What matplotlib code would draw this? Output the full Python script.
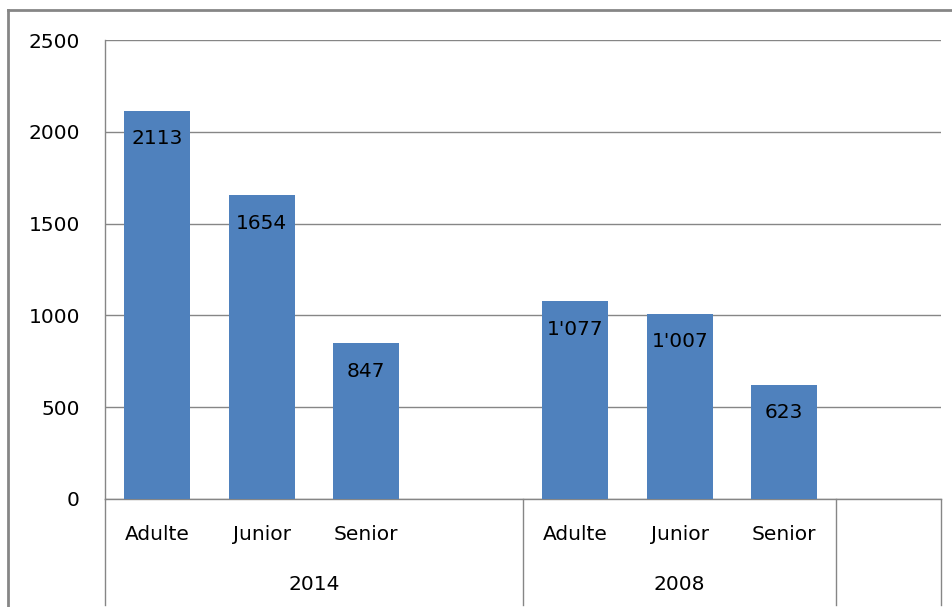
import numpy as np
import matplotlib
matplotlib.use("Agg")
import matplotlib.pyplot as plt
import matplotlib.transforms as mtransforms
from matplotlib.lines import Line2D

categories = ["Adulte", "Junior", "Senior", "", "Adulte", "Junior", "Senior", ""]
values = [2113, 1654, 847, np.nan, 1077, 1007, 623, np.nan]
value_labels = ["2113", "1654", "847", "", "1'077", "1'007", "623", ""]
groups = ["2014", "2008", ""]
group_sizes = [4, 3, 1]
yticks = [0, 500, 1000, 1500, 2000, 2500]

BAR = "#4F81BD"
GRAY = "#868686"
FS = 14.5

plt.rcParams["font.family"] = ["DejaVu Sans"]

fig = plt.figure(figsize=(9.53, 6.07), dpi=100)
ax = fig.add_axes([105/953, 1 - 499/607, (941-105)/953, (499-40)/607])

x = np.arange(len(categories)) + 0.5
ax.bar(x, values, width=0.63, color=BAR, zorder=3)
ax.set_xlim(0, len(categories))
ax.set_ylim(0, 2500)
ax.set_yticks(yticks)
ax.set_yticklabels([str(t) for t in yticks], fontsize=FS)
ax.tick_params(axis="y", length=0, pad=18)
ax.set_xticks([])
ax.grid(axis="y", color=GRAY, linewidth=1.0, zorder=0)
for s in ["top", "right"]:
    ax.spines[s].set_visible(False)
for s in ["left", "bottom"]:
    ax.spines[s].set_color(GRAY)
    ax.spines[s].set_linewidth(1.0)

# bar value labels
for xi, v, lab in zip(x, values, value_labels):
    if not np.isnan(v):
        ax.annotate(lab, (xi, v), xytext=(0, -20), textcoords="offset points",
                    ha="center", va="center", fontsize=FS, color="#000000", zorder=4)

trans = mtransforms.blended_transform_factory(ax.transData, ax.transAxes)
ylow = -(605 - 499) / 459
for xi, c in zip(x, categories):
    if c:
        ax.text(xi, -35/459, c, transform=trans, ha="center", va="center", fontsize=FS)

start = 0
bounds = [0]
for g, n in zip(groups, group_sizes):
    if g:
        ax.text(start + n/2, -85/459, g, transform=trans, ha="center", va="center", fontsize=FS)
    start += n
    bounds.append(start)
for b in bounds:
    ax.add_line(Line2D([b, b], [0, ylow], transform=trans, color=GRAY, linewidth=1.0, clip_on=False))

# outer chart border
fig.add_artist(Line2D([8/953, 1], [1 - 10/607, 1 - 10/607], transform=fig.transFigure, color=GRAY, linewidth=2))
fig.add_artist(Line2D([8/953, 8/953], [0, 1 - 10/607], transform=fig.transFigure, color=GRAY, linewidth=2))

fig.savefig("out.png", dpi=100)
